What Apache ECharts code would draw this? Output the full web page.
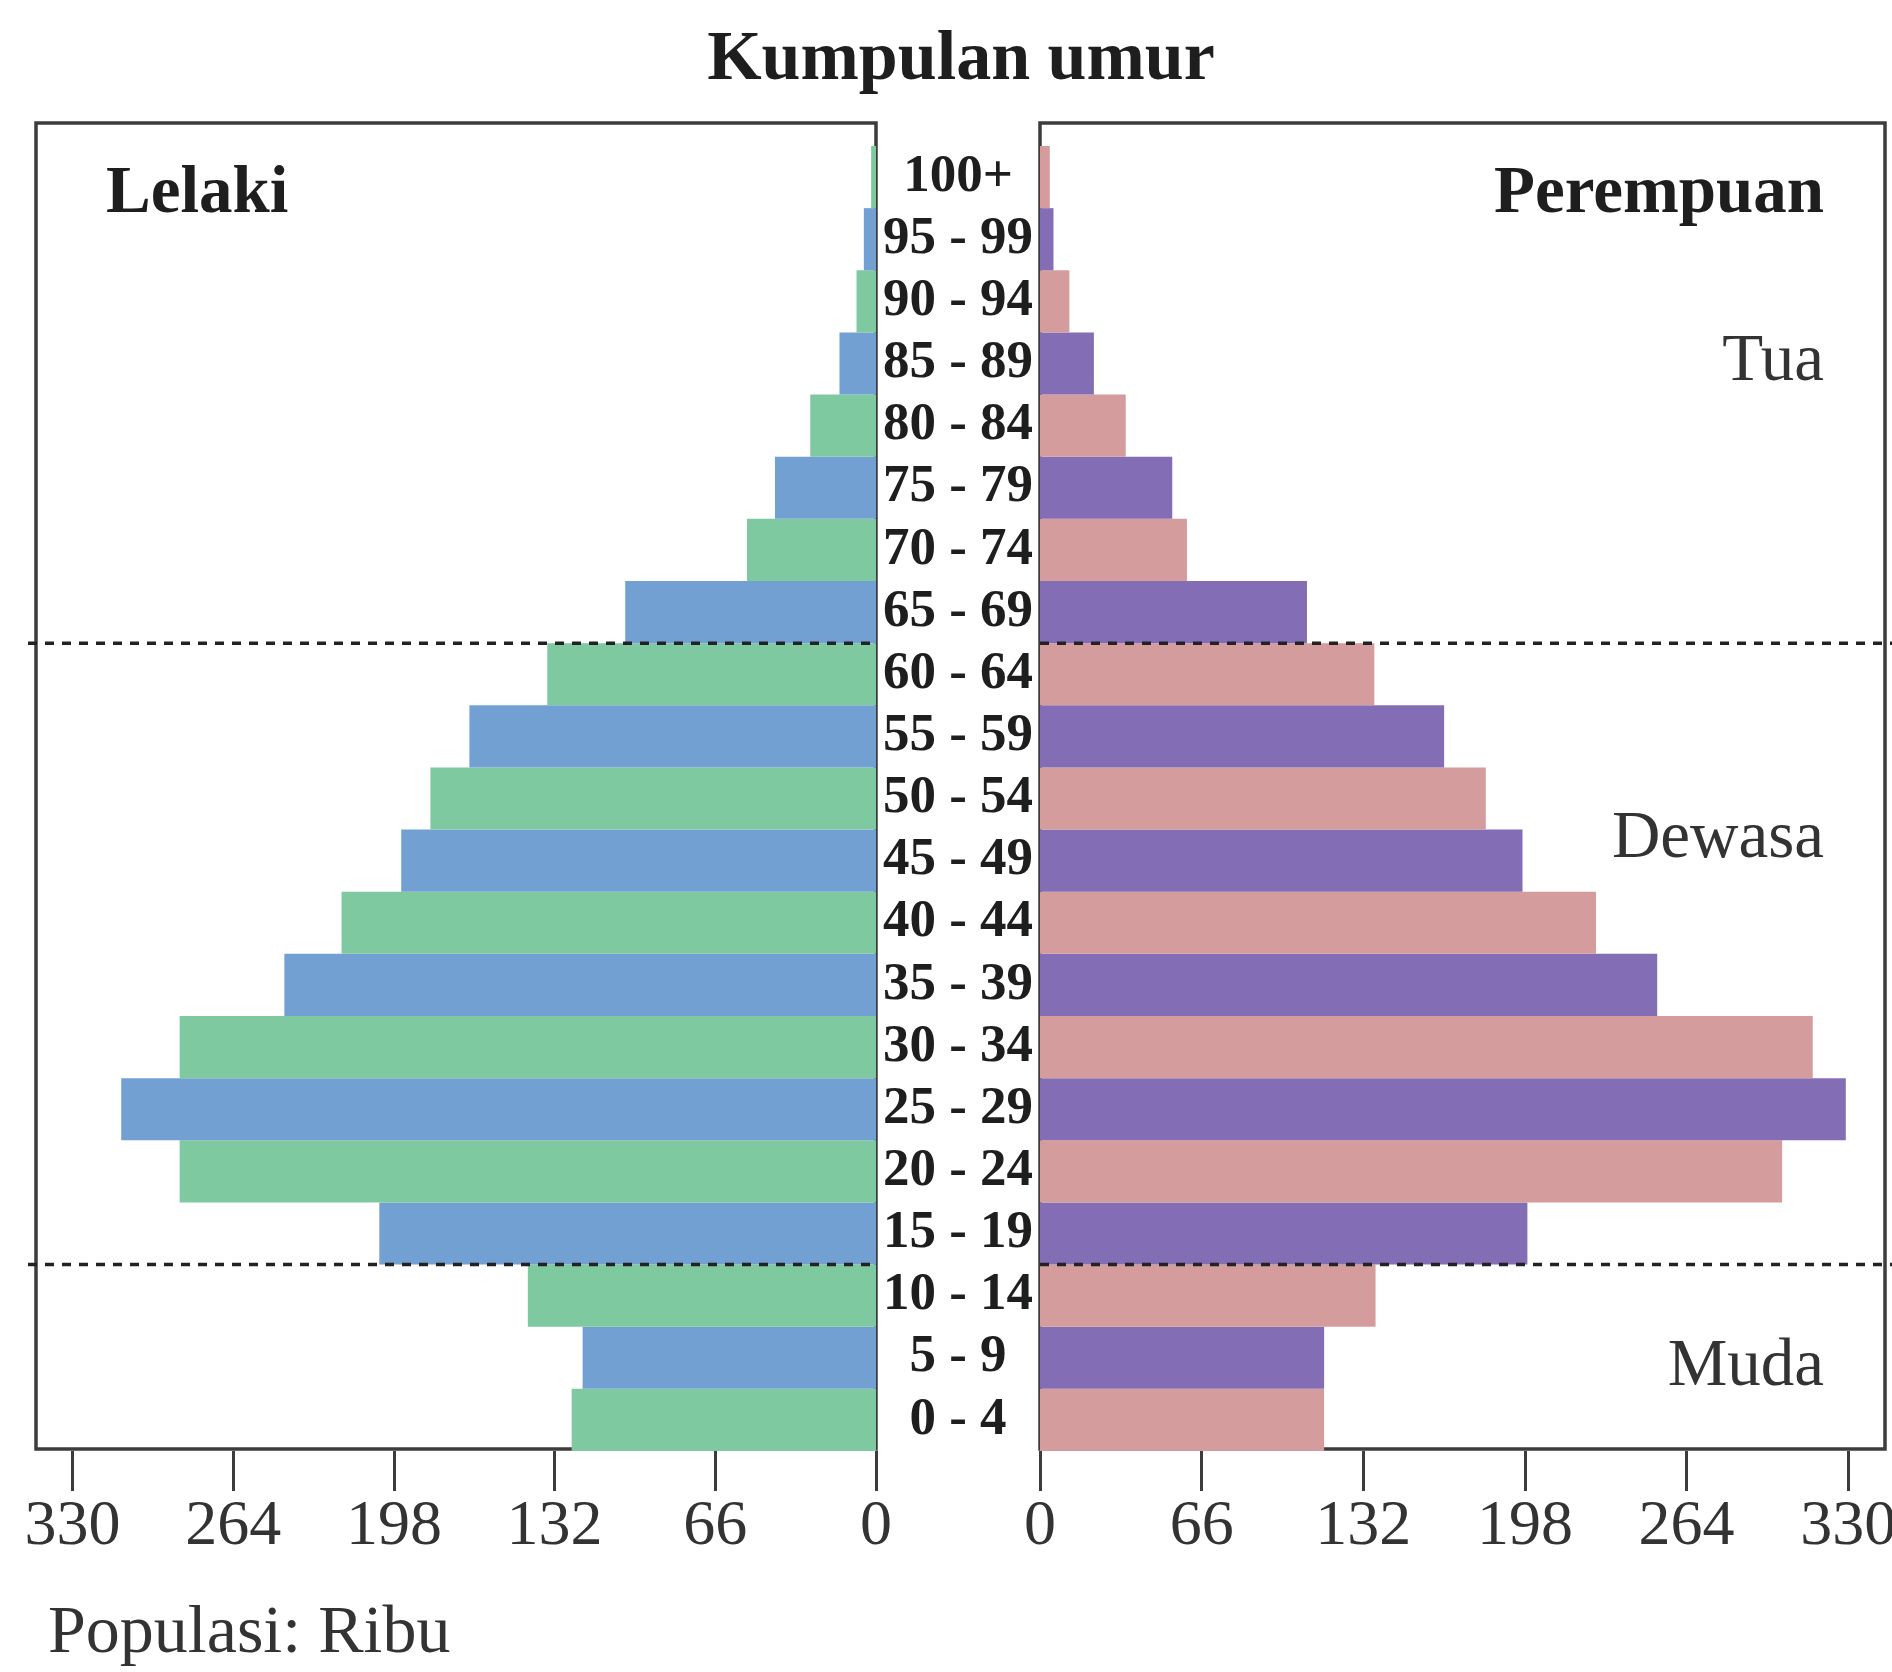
<!DOCTYPE html>
<html>
<head>
<meta charset="utf-8">
<title>Kumpulan umur</title>
<script src="https://cdn.jsdelivr.net/npm/echarts@6/dist/echarts.min.js"></script>
<style>
  html, body { margin: 0; padding: 0; background: #ffffff; }
  #chart { width: 1892px; height: 1672px; }
</style>
</head>
<body>
<div id="chart"></div>
<script>
// ---- data (bottom to top) ----
var ageGroups = ['0 - 4', '5 - 9', '10 - 14', '15 - 19', '20 - 24', '25 - 29', '30 - 34',
  '35 - 39', '40 - 44', '45 - 49', '50 - 54', '55 - 59', '60 - 64', '65 - 69',
  '70 - 74', '75 - 79', '80 - 84', '85 - 89', '90 - 94', '95 - 99', '100+'];
var maleValues = [125, 120.5, 143, 204, 286, 310, 286, 243, 219.5, 195, 183, 167, 135, 103,
  53, 41.5, 27, 15, 8, 5, 2];
var femaleValues = [116, 116, 137, 199, 303, 329, 315.5, 252, 227, 197, 182, 165, 136.5, 109,
  60, 54, 35, 22, 12, 5.5, 4];
var tickValues = [0, 66, 132, 198, 264, 330];
var axisMax = 345;
// band boundaries (in band units from the bottom): Muda | Dewasa, Dewasa | Tua
var groupBoundaries = [3, 13];
var maleColors = ['#7fc9a0', '#72a0d3'];
var femaleColors = ['#d49c9c', '#836eb5'];

var FONT = "'Liberation Serif', 'Times New Roman', serif";
var INK = '#1e1e1e';
var LINE = '#3c3c3c';

var chart = echarts.init(document.getElementById('chart'), null, { renderer: 'canvas' });

function hiddenAxis(gridIndex, min, max) {
  return { type: 'value', gridIndex: gridIndex, min: min, max: max, show: false };
}

function valueAxis(gridIndex, inverse) {
  return {
    type: 'value', gridIndex: gridIndex, min: 0, max: axisMax, inverse: inverse,
    position: 'bottom',
    axisLine: { show: false },
    splitLine: { show: false },
    axisTick: { show: true, customValues: tickValues, length: 40, lineStyle: { color: LINE, width: 3 } },
    axisLabel: {
      show: true, customValues: tickValues, margin: 44,
      fontFamily: FONT, fontSize: 64, color: '#333333'
    }
  };
}

var borderGrid = { show: true, borderColor: LINE, borderWidth: 3.5, backgroundColor: 'transparent', outerBoundsMode: 'none' };
var plainGrid = { show: false, outerBoundsMode: 'none' };

var option = {
  animation: false,
  backgroundColor: '#ffffff',
  grid: [
    Object.assign({ left: 36, top: 123, width: 840, height: 1326 }, borderGrid),
    Object.assign({ left: 36, top: 146, width: 840, height: 1305 }, plainGrid),
    Object.assign({ left: 1040, top: 123, width: 845, height: 1326 }, borderGrid),
    Object.assign({ left: 1040, top: 146, width: 845, height: 1305 }, plainGrid),
    Object.assign({ left: 28, top: 146, width: 848, height: 1305 }, plainGrid),
    Object.assign({ left: 1040, top: 146, width: 852, height: 1305 }, plainGrid)
  ],
  xAxis: [
    hiddenAxis(0, 0, 1),
    valueAxis(1, true),
    hiddenAxis(2, 0, 1),
    valueAxis(3, false),
    hiddenAxis(4, 0, 1),
    hiddenAxis(5, 0, 1)
  ],
  yAxis: [
    hiddenAxis(0, 0, 1),
    {
      type: 'category', gridIndex: 1, data: ageGroups,
      axisLine: { show: false }, axisTick: { show: false }, axisLabel: { show: false }
    },
    hiddenAxis(2, 0, 1),
    {
      type: 'category', gridIndex: 3, data: ageGroups, position: 'left',
      axisLine: { show: false }, axisTick: { show: false },
      axisLabel: {
        show: true, interval: 0, align: 'center', margin: 82,
        fontFamily: FONT, fontWeight: 'bold', fontSize: 53, color: INK
      }
    },
    hiddenAxis(4, 0, ageGroups.length),
    hiddenAxis(5, 0, ageGroups.length)
  ],
  series: [
    {
      name: 'Lelaki', type: 'bar', xAxisIndex: 1, yAxisIndex: 1,
      data: maleValues, barCategoryGap: '0%',
      itemStyle: { color: function (p) { return maleColors[p.dataIndex % 2]; } },
      z: 2
    },
    {
      name: 'Perempuan', type: 'bar', xAxisIndex: 3, yAxisIndex: 3,
      data: femaleValues, barCategoryGap: '0%',
      itemStyle: { color: function (p) { return femaleColors[p.dataIndex % 2]; } },
      z: 2
    }
  ],
  graphic: [
    { type: 'text', x: 961, y: 61, z: 100,
      style: { text: 'Kumpulan umur', font: 'bold 70px ' + FONT, fill: INK,
        textAlign: 'center', textVerticalAlign: 'middle', align: 'center', verticalAlign: 'middle' } },
    { type: 'text', x: 106, y: 195, z: 100,
      style: { text: 'Lelaki', font: 'bold 67px ' + FONT, fill: INK,
        textAlign: 'left', textVerticalAlign: 'middle', align: 'left', verticalAlign: 'middle' } },
    { type: 'text', x: 1824, y: 195, z: 100,
      style: { text: 'Perempuan', font: 'bold 67px ' + FONT, fill: INK,
        textAlign: 'right', textVerticalAlign: 'middle', align: 'right', verticalAlign: 'middle' } },
    { type: 'text', x: 1824, y: 362, z: 100,
      style: { text: 'Tua', font: '67px ' + FONT, fill: '#333333',
        textAlign: 'right', textVerticalAlign: 'middle', align: 'right', verticalAlign: 'middle' } },
    { type: 'text', x: 1824, y: 839, z: 100,
      style: { text: 'Dewasa', font: '67px ' + FONT, fill: '#333333',
        textAlign: 'right', textVerticalAlign: 'middle', align: 'right', verticalAlign: 'middle' } },
    { type: 'text', x: 1824, y: 1367, z: 100,
      style: { text: 'Muda', font: '67px ' + FONT, fill: '#333333',
        textAlign: 'right', textVerticalAlign: 'middle', align: 'right', verticalAlign: 'middle' } },
    { type: 'text', x: 48, y: 1634, z: 100,
      style: { text: 'Populasi: Ribu', font: '68px ' + FONT, fill: '#333333',
        textAlign: 'left', textVerticalAlign: 'middle', align: 'left', verticalAlign: 'middle' } }
  ]
};

// dashed age-group separators, drawn on top of the bars
[4, 5].forEach(function (gi) {
  groupBoundaries.forEach(function (b) {
    option.series.push({
      type: 'line', xAxisIndex: gi, yAxisIndex: gi,
      data: [[0, b], [1, b]],
      showSymbol: false, symbol: 'none', silent: true,
      lineStyle: { color: '#222222', width: 3.5, type: [9, 8] },
      z: 10
    });
  });
});

chart.setOption(option);
</script>
</body>
</html>
